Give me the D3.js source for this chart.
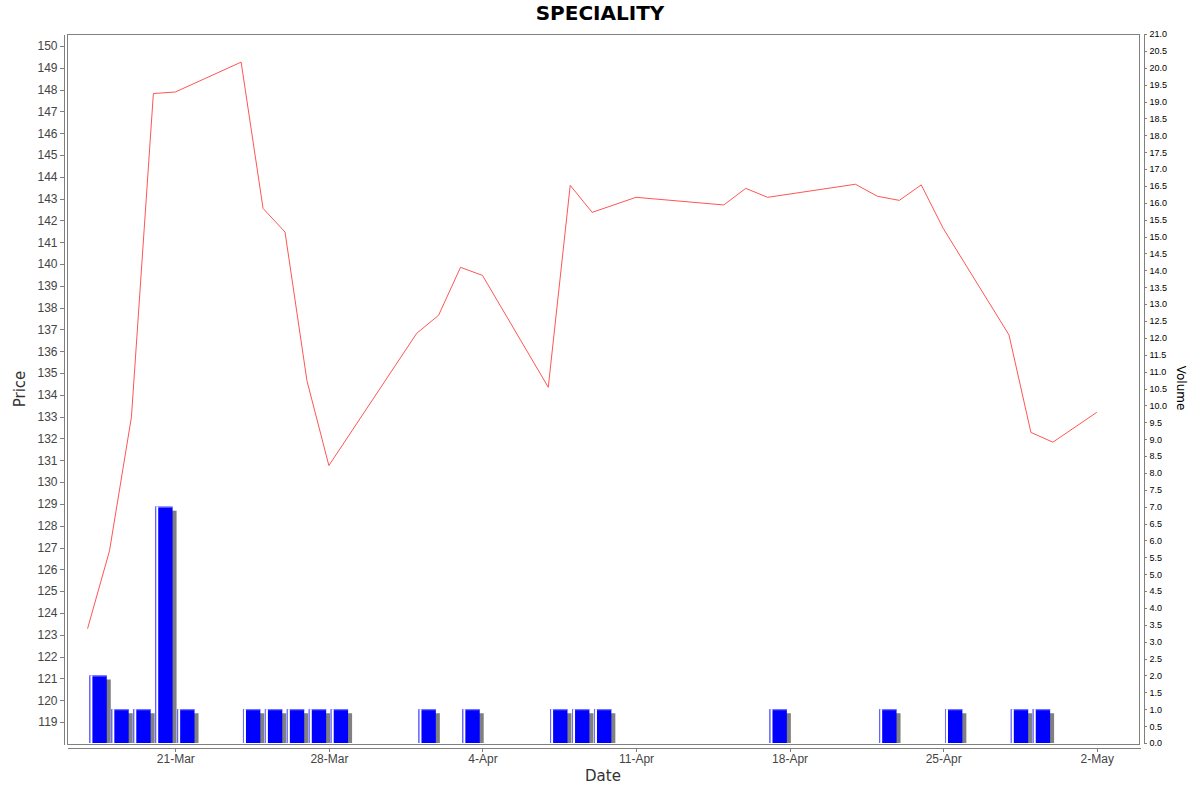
<!DOCTYPE html>
<html>
<head>
<meta charset="utf-8">
<script src="https://cdn.jsdelivr.net/npm/d3@7"></script>
<style>
  body { margin: 0; background: #fff; }
  svg { font-family: "DejaVu Sans", sans-serif; }
  .axis path, .axis line { stroke: #808080; shape-rendering: crispEdges; }
  .axis text { fill: #444; font-size: 12px; }
  .vol.axis text { fill: #000; font-size: 9px; }
</style>
</head>
<body>
<div id="chart"></div>
<script>
// closing price per trading day
var priceDates = ["2025-03-17", "2025-03-18", "2025-03-19", "2025-03-20", "2025-03-21",
  "2025-03-24", "2025-03-25", "2025-03-26", "2025-03-27", "2025-03-28",
  "2025-04-01", "2025-04-02", "2025-04-03", "2025-04-04",
  "2025-04-07", "2025-04-08", "2025-04-09", "2025-04-11",
  "2025-04-15", "2025-04-16", "2025-04-17",
  "2025-04-21", "2025-04-22", "2025-04-23", "2025-04-24", "2025-04-25",
  "2025-04-28", "2025-04-29", "2025-04-30", "2025-05-02"];
var priceValues = [123.28, 126.85, 132.99, 147.82, 147.89,
  149.26, 142.55, 141.47, 134.65, 130.76,
  136.82, 137.65, 139.85, 139.48,
  134.35, 143.61, 142.37, 143.06,
  142.71, 143.47, 143.06,
  143.66, 143.11, 142.92, 143.63, 141.64,
  136.75, 132.28, 131.83, 133.2];

// traded volume
var volumeDates = ["2025-03-17", "2025-03-18", "2025-03-19", "2025-03-20", "2025-03-21",
  "2025-03-24", "2025-03-25", "2025-03-26", "2025-03-27", "2025-03-28",
  "2025-04-01", "2025-04-03", "2025-04-07", "2025-04-08", "2025-04-09",
  "2025-04-17", "2025-04-22", "2025-04-25", "2025-04-28", "2025-04-29"];
var volumeValues = [2, 1, 1, 7, 1,
  1, 1, 1, 1, 1,
  1, 1, 1, 1, 1,
  1, 1, 1, 1, 1];

var priceTicks = d3.range(119, 151, 1);
var volumeTicks = d3.range(0, 21.01, 0.5);

var width = 1200, height = 792;
var plot = {left: 67, right: 1140, top: 34, bottom: 744};
var parse = d3.timeParse("%Y-%m-%d");

var priceData = priceDates.map(function (d, i) {
  return {date: parse(d), value: priceValues[i]};
});
var volumeData = volumeDates.map(function (d, i) {
  return {date: parse(d), value: volumeValues[i]};
});

var x = d3.scaleTime()
  .domain([new Date(2025, 2, 16, 1, 30), new Date(2025, 4, 3, 23, 20)])
  .range([plot.left, plot.right]);
var yPrice = d3.scaleLinear()
  .domain([117.99, 150.55])
  .range([plot.bottom, plot.top]);
var yVol = d3.scaleLinear()
  .domain([0, 21])
  .range([plot.bottom - 1, plot.top]);

var svg = d3.select("#chart").append("svg")
  .attr("width", width)
  .attr("height", height);

// title
svg.append("text")
  .attr("x", 600)
  .attr("y", 20)
  .attr("text-anchor", "middle")
  .style("font-size", "20px")
  .style("font-weight", "bold")
  .text("SPECIALITY");

// plot border
svg.append("rect")
  .attr("x", plot.left + 0.5)
  .attr("y", plot.top + 0.5)
  .attr("width", plot.right - plot.left - 1)
  .attr("height", plot.bottom - plot.top)
  .attr("fill", "none")
  .attr("stroke", "#808080");

// volume bars with shadow
var bars = svg.append("g").attr("class", "bars");
bars.selectAll("g.bar")
  .data(volumeData)
  .enter().append("g")
  .attr("class", "bar")
  .each(function (d) {
    var g = d3.select(this);
    var x0 = x(d3.timeHour.offset(d.date, 2)),
      x1 = x(d3.timeHour.offset(d.date, 21.5)),
      top = yVol(d.value),
      base = yVol(0);
    g.append("rect")
      .attr("x", x0 + 4).attr("y", top + 4)
      .attr("width", x1 - x0).attr("height", Math.max(0, base - top - 4))
      .attr("fill", "#808080");
    g.append("rect")
      .attr("x", x0).attr("y", top)
      .attr("width", x1 - x0).attr("height", base - top)
      .attr("fill", "#0000ff");
    g.append("rect")
      .attr("x", x0).attr("y", top)
      .attr("width", x1 - x0).attr("height", 1)
      .attr("fill", "#8080ff");
    g.append("rect")
      .attr("x", x0).attr("y", top)
      .attr("width", 1).attr("height", base - top)
      .attr("fill", "#6f6fff");
    g.append("rect")
      .attr("x", x0 + 1).attr("y", top)
      .attr("width", 2).attr("height", base - top)
      .attr("fill", "#ffffff");
  });

// price line
var line = d3.line()
  .x(function (d) { return x(d.date); })
  .y(function (d) { return yPrice(d.value); });

svg.append("path")
  .datum(priceData)
  .attr("d", line)
  .attr("fill", "none")
  .attr("stroke", "#ff5555")
  .attr("stroke-width", 1);

// axes
var xAxis = d3.axisBottom(x)
  .ticks(d3.timeFriday.every(1))
  .tickFormat(d3.timeFormat("%-d-%b"))
  .tickSize(4)
  .tickSizeOuter(0)
  .tickPadding(3);
svg.append("g")
  .attr("class", "x axis")
  .attr("transform", "translate(0," + (plot.bottom + 3.5) + ")")
  .call(xAxis);

var yAxis = d3.axisLeft(yPrice)
  .tickValues(priceTicks)
  .tickFormat(d3.format("d"))
  .tickSize(4)
  .tickSizeOuter(0)
  .tickPadding(2);
svg.append("g")
  .attr("class", "y axis")
  .attr("transform", "translate(" + (plot.left - 3.5) + ",0)")
  .call(yAxis);

var volAxis = d3.axisRight(yVol)
  .tickValues(volumeTicks)
  .tickFormat(d3.format(".1f"))
  .tickSize(3)
  .tickSizeOuter(0)
  .tickPadding(3);
svg.append("g")
  .attr("class", "vol axis")
  .attr("transform", "translate(" + (plot.right + 3.5) + ",0)")
  .call(volAxis);

// axis labels
svg.append("text")
  .attr("x", 603)
  .attr("y", 781)
  .attr("text-anchor", "middle")
  .attr("fill", "#333")
  .style("font-size", "15px")
  .text("Date");

svg.append("text")
  .attr("transform", "translate(25,389) rotate(-90)")
  .attr("text-anchor", "middle")
  .attr("fill", "#333")
  .style("font-size", "15px")
  .text("Price");

svg.append("text")
  .attr("transform", "translate(1177,388) rotate(90)")
  .attr("text-anchor", "middle")
  .attr("fill", "#000")
  .style("font-size", "12px")
  .text("Volume");
</script>
</body>
</html>
